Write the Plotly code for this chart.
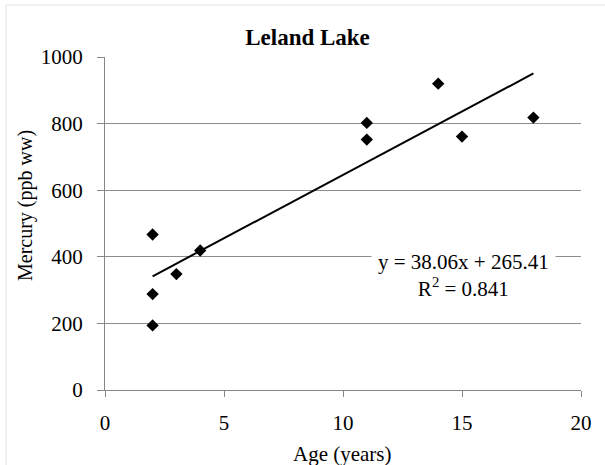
import plotly.graph_objects as go

# Fish age vs. mercury concentration, Leland Lake
age_years = [2, 2, 2, 3, 4, 11, 11, 14, 15, 18]
mercury_ppb = [467, 288, 194, 348, 419, 802, 752, 920, 761, 818]

# Linear trend reported for the samples
slope = 38.06
intercept = 265.41
r_squared = 0.841
trend_x = [min(age_years), max(age_years)]
trend_y = [slope * x + intercept for x in trend_x]

x_ticks = [0, 5, 10, 15, 20]
y_ticks = [0, 200, 400, 600, 800, 1000]

SERIF = "Times New Roman"
AXIS_GREY = "#878787"

fig = go.Figure()
fig.add_trace(go.Scatter(
    x=age_years, y=mercury_ppb, mode="markers",
    marker=dict(symbol="diamond", size=9.5, color="black"),
    showlegend=False, hoverinfo="x+y",
))
fig.add_trace(go.Scatter(
    x=trend_x, y=trend_y, mode="lines",
    line=dict(color="black", width=2),
    showlegend=False, hoverinfo="skip",
))

fig.update_layout(
    width=605, height=465,
    margin=dict(l=105, r=24, t=57, b=75),
    paper_bgcolor="white", plot_bgcolor="white",
    font=dict(family=SERIF, size=21, color="black"),
    title=dict(
        text="<b>Leland Lake</b>", font=dict(family=SERIF, size=23, color="black"),
        x=(307.5 - 105) / 476, xref="paper", xanchor="center",
        y=1 - 37 / 465, yref="container", yanchor="middle",
    ),
    xaxis=dict(
        range=[0, 20], tickvals=x_ticks, showgrid=False, zeroline=False,
        showline=True, linecolor=AXIS_GREY, linewidth=1,
        ticks="outside", ticklen=6, tickcolor=AXIS_GREY,
        ticklabelstandoff=8, fixedrange=True,
        tickfont=dict(family=SERIF, size=21),
    ),
    yaxis=dict(
        range=[0, 1000], tickvals=y_ticks, showgrid=True, gridcolor="#8c8c8c",
        gridwidth=1, zeroline=False,
        showline=True, linecolor=AXIS_GREY, linewidth=1,
        ticks="outside", ticklen=7, tickcolor=AXIS_GREY,
        ticklabelstandoff=10, fixedrange=True,
        tickfont=dict(family=SERIF, size=21),
    ),
    annotations=[
        dict(
            text="Mercury (ppb ww)", textangle=-90,
            x=(25 - 105) / 476, y=(390 - 206) / 333, xref="paper", yref="paper",
            xanchor="center", yanchor="middle", showarrow=False,
            font=dict(family=SERIF, size=20),
        ),
        dict(
            text="Age (years)",
            x=(342 - 105) / 476, y=(390 - 454) / 333, xref="paper", yref="paper",
            xanchor="center", yanchor="middle", showarrow=False,
            font=dict(family=SERIF, size=21),
        ),
        # trendline equation, on a white box that breaks the gridline
        dict(
            text=f"y = {slope:.2f}x + {intercept:.2f}<br>R<sup>2</sup> = {r_squared:.3f}",
            x=15.05, y=345, xref="x", yref="y", align="center",
            xanchor="center", yanchor="middle", showarrow=False,
            bgcolor="white", borderpad=6,
            font=dict(family=SERIF, size=21),
        ),
    ],
    shapes=[
        # light outer frame of the chart area
        dict(type="line", xref="paper", yref="paper",
             x0=(6 - 105) / 476, x1=(640 - 105) / 476,
             y0=(390 - 5) / 333, y1=(390 - 5) / 333,
             line=dict(color="#e2e2e2", width=1)),
        dict(type="line", xref="paper", yref="paper",
             x0=(6 - 105) / 476, x1=(6 - 105) / 476,
             y0=(390 - 5) / 333, y1=(390 - 500) / 333,
             line=dict(color="#e2e2e2", width=1)),
    ],
)

fig.write_html("out.html")
